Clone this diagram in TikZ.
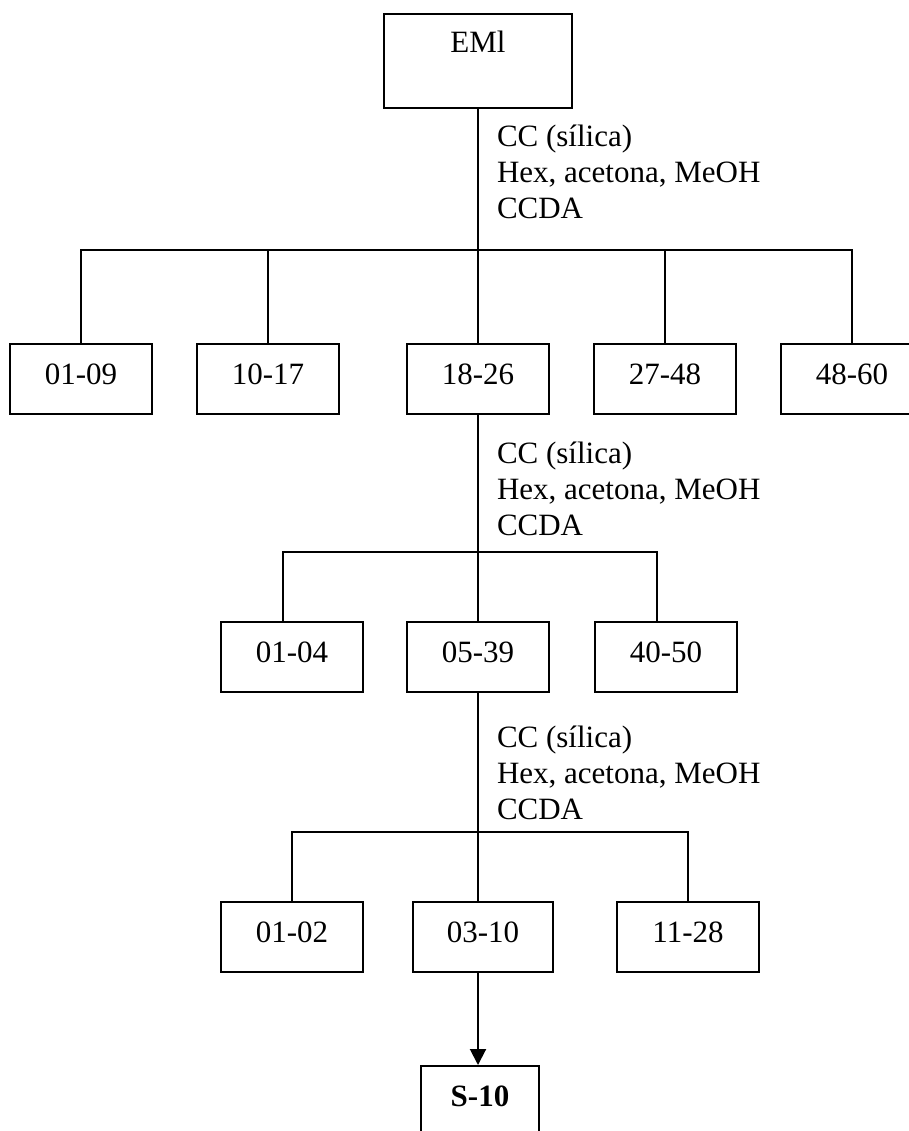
\documentclass[tikz,border=0pt]{standalone}
\usepackage{fontspec}
\setmainfont{Liberation Serif}
\usetikzlibrary{arrows.meta}
\begin{document}
\begin{tikzpicture}[x=1pt,y=-1pt,line width=2pt,
  box/.style={draw, minimum width=142pt, minimum height=70pt, inner sep=0pt,
    text height=20pt, text depth=10pt, font=\fontsize{31}{36}\selectfont},
  lab/.style={anchor=base west, inner sep=0pt, font=\fontsize{31}{36}\selectfont}]
\useasboundingbox (0,0) rectangle (909,1131);
\clip (0,0) rectangle (909,1131);
% top
\node[box, minimum width=188pt, minimum height=94pt, text depth=36pt] (eml) at (478,61) {EMl};
% row 1
\begin{scope}[every node/.append style={minimum height=66pt, text depth=8pt}]
\node[box] (b0109) at (81,379) {01-09};
\node[box] (b1017) at (268,379) {10-17};
\node[box] (b1826) at (478,379) {18-26};
\node[box] (b2748) at (665,379) {27-48};
\node[box] (b4860) at (852,379) {48-60};
\end{scope}
% row 2
\begin{scope}[every node/.append style={text depth=12pt}]
\node[box] (b0104) at (292,657) {01-04};
\node[box] (b0539) at (478,657) {05-39};
\node[box] (b4050) at (666,657) {40-50};
\end{scope}
% row 3
\node[box] (b0102) at (292,937) {01-02};
\node[box, minimum width=140pt] (b0310) at (483,937) {03-10};
\node[box] (b1128) at (688,937) {11-28};
% final
\node[box, minimum width=118pt, font=\fontsize{31}{36}\selectfont\bfseries] (s10) at (480,1101) {S-10};
% labels
\node[lab] (l1a) at (496,147) {CC (sílica)};
\node[lab] (l1b) at (496,183) {Hex, acetona, MeOH};
\node[lab] (l1c) at (496,219) {CCDA};
\node[lab] (l2a) at (496,463) {CC (sílica)};
\node[lab] (l2b) at (496,499) {Hex, acetona, MeOH};
\node[lab] (l2c) at (496,535) {CCDA};
\node[lab] (l3a) at (496,747) {CC (sílica)};
\node[lab] (l3b) at (496,783) {Hex, acetona, MeOH};
\node[lab] (l3c) at (496,819) {CCDA};
% junctions
\coordinate (j1) at (478,250);
\coordinate (j2) at (478,552);
\coordinate (j3) at (478,832);
\coordinate (c2l) at (283,552);
\coordinate (c2r) at (657,552);
% connectors level 1
\draw (j1 |- eml.south) -- (j1);
\draw (b0109.north) |- (j1) -| (b4860.north);
\draw (j1) -- (j1 |- b1826.north);
\draw (b1017.north) -- (b1017.north |- j1);
\draw (b2748.north) -- (b2748.north |- j1);
% level 2
\draw (j2 |- b1826.south) -- (j2) -- (j2 |- b0539.north);
\draw (c2l |- b0104.north) -- (c2l) -- (c2r) -- (c2r |- b4050.north);
% level 3
\draw (j3 |- b0539.south) -- (j3) -- (j3 |- b0310.north);
\draw (b0102.north) |- (j3) -| (b1128.north);
% arrow
\draw[-{Triangle[length=16pt,width=16pt]}] (j3 |- b0310.south) -- (j3 |- s10.north);
\end{tikzpicture}
\end{document}
